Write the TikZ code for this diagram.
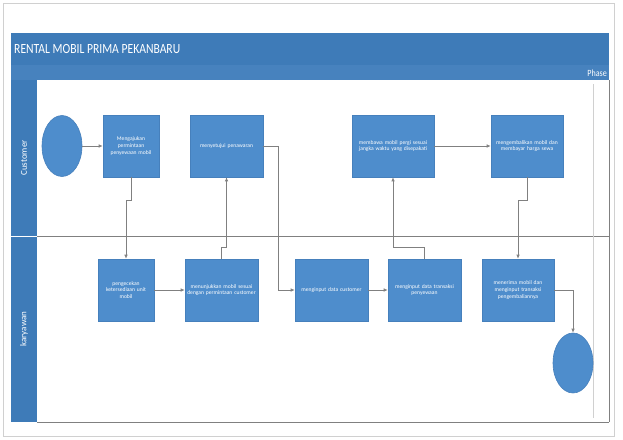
\documentclass[tikz,border=0pt]{standalone}
\usepackage{fontspec}
\setmainfont{Carlito}
\usetikzlibrary{arrows.meta,shapes.geometric}
\definecolor{band}{HTML}{3E7BB8}
\definecolor{band2}{HTML}{4782BE}
\definecolor{boxblue}{HTML}{4E8DCC}
\definecolor{boxedge}{HTML}{4680BC}
\definecolor{linegray}{HTML}{808080}
\definecolor{framegray}{HTML}{D0D0D0}
\begin{document}
\begin{tikzpicture}[x=1pt,y=-1pt,
  stepbox/.style={draw=boxedge,line width=0.6pt,fill=boxblue,text=white,align=center,
    font=\fontsize{5.6}{6.6}\selectfont,inner sep=1pt},
  terminal/.style={draw=boxedge,line width=0.6pt,fill=boxblue,ellipse,minimum width=40pt,minimum height=61pt,inner sep=0pt},
  flow/.style={draw=linegray,line width=0.7pt,-{Latex[length=4pt,width=3.5pt]}},
  lanetext/.style={text=white,font=\fontsize{9}{10}\selectfont,rotate=90}]
\useasboundingbox (0,0) rectangle (623,439);
\fill[white] (0,0) rectangle (623,439);
% outer frame
\draw[framegray,line width=0.6pt] (3,3) rectangle (614,436);
% title band
\fill[band] (11,33) rectangle (609,65);
\fill[band2] (11,65) rectangle (609,80);
\node[anchor=west,text=white,font=\fontsize{14}{15}\selectfont,inner sep=0pt] (title) at (14,49.5) {\addfontfeatures{FakeStretch=0.83}RENTAL MOBIL PRIMA PEKANBARU};
\node[anchor=east,text=white,font=\fontsize{9.5}{10}\selectfont,inner sep=0pt] (phase) at (607,73) {\addfontfeatures{FakeStretch=0.85}Phase};
% lane headers
\fill[band] (11,80) rectangle (37,422);
\draw[white,line width=0.8pt] (11,236) -- (37,236);
\node[lanetext] (lcust) at (24,158) {Customer};
\node[lanetext] (lkary) at (24,329) {karyawan};
% lane lines
\draw[linegray,line width=0.7pt] (37,236) -- (609,236);
\draw[linegray,line width=0.7pt] (37,422) -- (609,422);
\draw[linegray,line width=0.7pt] (609,80) -- (609,422);
\draw[framegray,line width=0.4pt] (593,84) -- (593,418);
% nodes (top lane)
\node[terminal] (start) at (62,146) {};
\node[stepbox,minimum width=56pt,minimum height=62pt,text width=52pt] (b1) at (131,146) {Mengajukan\\permintaan\\penyewaan mobil};
\node[stepbox,minimum width=73pt,minimum height=62pt,text width=70pt] (b2) at (226.5,146) {menyetujui penawaran};
\node[stepbox,minimum width=82pt,minimum height=62pt,text width=79pt] (b3) at (393,146) {membawa mobil pergi sesuai\\jangka waktu yang disepakati};
\node[stepbox,minimum width=72pt,minimum height=62pt,text width=69pt] (b4) at (527,146) {mengembalikan mobil dan\\membayar harga sewa};
% nodes (bottom lane)
\node[stepbox,minimum width=56pt,minimum height=62pt,text width=52pt] (b5) at (126,290) {pengecekan\\ketersediaan unit\\mobil};
\node[stepbox,minimum width=73pt,minimum height=62pt,text width=71pt] (b6) at (221.5,290) {menunjukkan mobil sesuai\\dengan permintaan customer};
\node[stepbox,minimum width=73pt,minimum height=62pt,text width=70pt] (b7) at (331.5,290) {menginput data customer};
\node[stepbox,minimum width=73pt,minimum height=62pt,text width=70pt] (b8) at (424.5,290) {menginput data transaksi\\penyewaan};
\node[stepbox,minimum width=72pt,minimum height=62pt,text width=69pt] (b9) at (518,290) {menerima mobil dan\\menginput transaksi\\pengembaliannya};
\node[terminal,minimum height=60pt] (end) at (573,363) {};
% connectors
\draw[flow] (start) -- (b1);
\draw[flow] (b1.south) -- ++(0,23) -| (b5.north);
\draw[flow] (b5) -- (b6);
\draw[flow] (b6.north) -- ++(0,-11) -| (b2.south);
\draw[flow] (b2.east) -- ++(15,0) |- (b7.west);
\draw[flow] (b7) -- (b8);
\draw[flow] (b8.north) -- ++(0,-11) -| (b3.south);
\draw[flow] (b3) -- (b4);
\draw[flow] (b4.south) -- ++(0,23) -| (b9.north);
\draw[flow] (b9.east) -| (end.north);
\end{tikzpicture}
\end{document}
